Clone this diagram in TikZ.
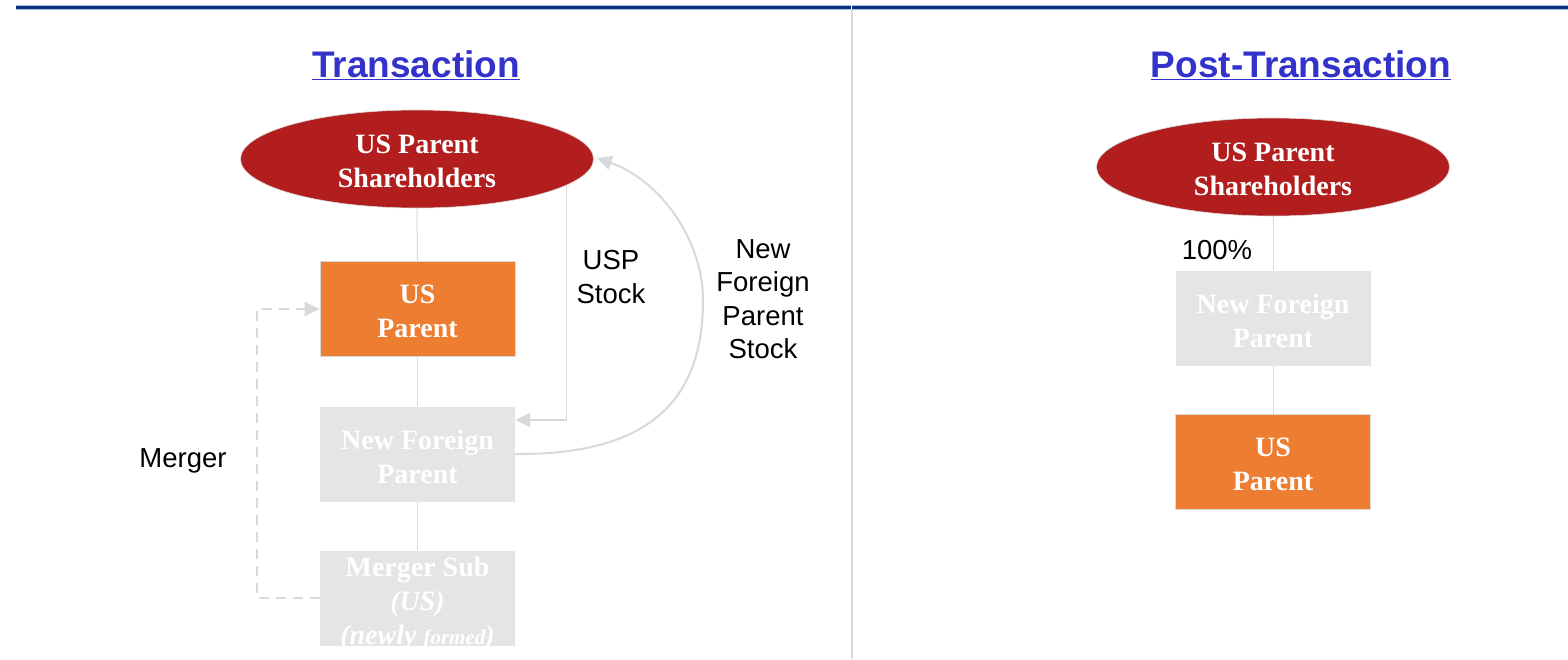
\documentclass[tikz,border=0pt]{standalone}
\usepackage{fontspec}
\setmainfont{Liberation Serif}
\newfontfamily\arial{Liberation Sans}
\usetikzlibrary{shapes.geometric,arrows.meta}

\definecolor{holderred}{RGB}{178,30,30}
\definecolor{parentorange}{RGB}{237,125,49}
\definecolor{ghostgray}{RGB}{229,229,229}
\definecolor{linkgray}{RGB}{217,217,217}
\definecolor{titleblue}{RGB}{51,51,204}
\definecolor{barnavy}{RGB}{10,50,130}
\definecolor{barlight}{RGB}{170,192,225}

\tikzset{
  boxfont/.style={font=\bfseries\fontsize{28}{34}\selectfont, text=white, align=center},
  % the caption of a shape, set a little below its centre
  caption/.style={label={[boxfont, inner sep=0pt, yshift=-2.5pt]center:{#1}}},
  holder/.style={ellipse, fill=holderred, draw=white!85!black, line width=0.6pt,
    minimum width=353pt, minimum height=98pt, inner sep=0pt},
  entity/.style={rectangle, minimum width=195pt, minimum height=95pt, inner sep=0pt},
  orangebox/.style={entity, fill=parentorange, draw=white!85!black, line width=0.6pt},
  graybox/.style={entity, fill=ghostgray},
  link/.style={draw=linkgray, line width=1pt},
  flow/.style={draw=linkgray, line width=1.6pt,
    -{Triangle[length=15pt,width=14pt]}, fill=none},
  mergeflow/.style={draw=linkgray, line width=2pt, dash pattern=on 10pt off 7pt,
    -{Triangle[length=15pt,width=14pt]}},
  note/.style={font=\arial\fontsize{27.5}{33.5}\selectfont, text=black, align=center},
  heading/.style={font=\arial\bfseries\fontsize{37}{40}\selectfont, text=titleblue, anchor=base},
}

\begin{document}
\begin{tikzpicture}[x=1pt, y=-1pt]
  % page frame
  \fill[white] (0,0) rectangle (1568,659);
  \useasboundingbox (0,0) rectangle (1568,659);

  % header rule and column divider
  \draw[barlight, line width=5pt] (16,7.5) -- (1568,7.5);
  \draw[barnavy, line width=3pt] (16,7.5) -- (1568,7.5);
  \draw[white, line width=1pt] (851.5,5) -- (851.5,10);
  \draw[linkgray, line width=1.5pt] (852,10) -- (852,659);

  % ---------- left column: the transaction ----------
  \node[heading] (ttl) at (416,77) {\underline{Transaction}};

  \node[holder, caption={US Parent\\Shareholders}] (ush) at (417,159) {};
  \node[orangebox, caption={US\\Parent}] (usp) at (417.5,309) {};
  \node[graybox, caption={New Foreign\\Parent}] (nfp) at (417.5,454) {};
  \node[graybox] (ms) at (417.5,598) {};
  \node[boxfont, anchor=north, inner sep=0pt] (mstext) at (417.5,556.5)
    {Merger Sub\\\textit{(US)}\\\textit{(newly {\fontsize{21}{34}\selectfont formed})}};

  \draw[link] (ush.south) -- (usp.north);
  \draw[link] (usp.south) -- (nfp.north);
  \draw[link] (nfp.south) -- (ms.north);

  % USP stock flows from the shareholders to New Foreign Parent
  \draw[flow] (ush.-10.3) |- ([yshift=34pt]nfp.east);

  % New Foreign Parent stock flows back to the shareholders
  \coordinate (swing) at (703,300);
  \draw[flow, line width=2pt] (nfp.east) .. controls (650,455) and (703,400) .. (swing)
    .. controls (703,240) and (660,180) .. ([xshift=3pt,yshift=1pt]ush.east);

  % merger of Merger Sub into US Parent
  \draw[mergeflow] (ms.west) -- ++(-63,0) |- (usp.west);

  \node[note] (uspstock) at (611,277) {USP\\Stock};
  \node[note] (nfpstock) at (763,299) {New\\Foreign\\Parent\\Stock};
  \node[note] (merger) at (183,461) {Merger};

  % ---------- right column: after the transaction ----------
  \node[heading] (ttr) at (1301,77) {\underline{Post-Transaction}};

  \node[holder, caption={US Parent\\Shareholders}] (ush2) at (1273,167) {};
  \node[graybox, caption={New Foreign\\Parent}] (nfp2) at (1273,318) {};
  \node[orangebox, caption={US\\Parent}] (usp2) at (1273,462) {};

  \draw[link] (ush2.south) -- (nfp2.north);
  \draw[link] (nfp2.south) -- (usp2.north);

  \node[note] (pct) at (1217,250) {100\%};
\end{tikzpicture}
\end{document}
